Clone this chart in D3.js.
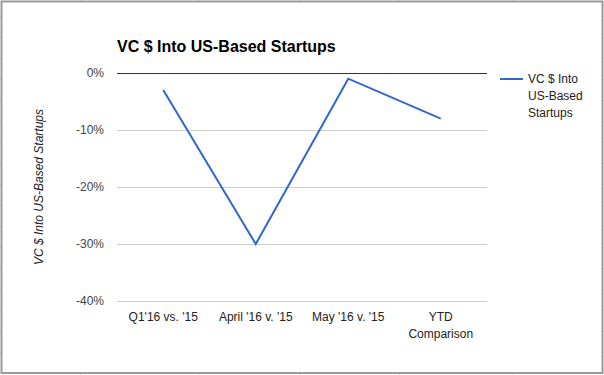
<!DOCTYPE html>
<html>
<head>
<meta charset="utf-8">
<script src="https://cdn.jsdelivr.net/npm/d3@7"></script>
<style>
  body { margin: 0; background: #fff; }
  svg { display: block; font-family: Arial, "Liberation Sans", sans-serif; }
</style>
</head>
<body>
<div id="chart"></div>
<script>
// data
const categories = ["Q1'16 vs. '15", "April '16 v. '15", "May '16 v. '15", "YTD Comparison"];
const values = [-3, -30, -1, -8];
const yTicks = [0, -10, -20, -30, -40];
const seriesName = "VC $ Into US-Based Startups";

const width = 604, height = 375;
const margin = {top: 73, left: 117, right: 117, bottom: 74};

const svg = d3.select("#chart").append("svg")
    .attr("width", width)
    .attr("height", height);

// faint spreadsheet grid peeking out behind the chart
const sheet = svg.append("g").attr("stroke", "#d0d0d0").attr("stroke-width", 1);
sheet.selectAll("line.row")
    .data(d3.range(16, 360, 21))
    .join("line")
    .attr("class", "row")
    .attr("x1", 0).attr("x2", width)
    .attr("y1", d => d + 0.5).attr("y2", d => d + 0.5);
sheet.selectAll("line.col")
    .data([80, 198, 299, 399, 513])
    .join("line")
    .attr("class", "col")
    .attr("x1", d => d + 0.5).attr("x2", d => d + 0.5)
    .attr("y1", 0).attr("y2", height);

// chart frame
svg.append("rect")
    .attr("x", 1.5).attr("y", 1.5)
    .attr("width", 601).attr("height", 371.5)
    .attr("fill", "#fff")
    .attr("stroke", "#9a9a9a")
    .attr("stroke-width", 2);

const xScale = d3.scaleBand()
    .domain(categories)
    .range([margin.left, width - margin.right]);

const yScale = d3.scaleLinear()
    .domain([-40, 0])
    .range([height - margin.bottom, margin.top]);

// title
svg.append("text")
    .attr("x", margin.left)
    .attr("y", 52)
    .attr("font-size", 16)
    .attr("font-weight", "bold")
    .attr("fill", "#000")
    .text(seriesName);

// gridlines + y labels
const yAxis = d3.axisLeft(yScale)
    .tickValues(yTicks)
    .tickSize(-(width - margin.left - margin.right))
    .tickPadding(13)
    .tickFormat(d => d + "%");

const gy = svg.append("g")
    .attr("transform", `translate(${margin.left},0)`)
    .call(yAxis);
gy.select(".domain").remove();
gy.selectAll(".tick line")
    .attr("stroke", d => d === 0 ? "#333" : "#ccc");
gy.selectAll(".tick text")
    .attr("font-size", 12)
    .attr("fill", "#444");

// x labels
const xAxis = d3.axisBottom(xScale).tickSize(0).tickPadding(11);
const gx = svg.append("g")
    .attr("transform", `translate(0,${height - margin.bottom})`)
    .call(xAxis);
gx.select(".domain").remove();
gx.selectAll(".tick text")
    .attr("font-size", 12)
    .attr("fill", "#222")
    .each(function(d) {
        // wrap the long last label like the original
        if (d === "YTD Comparison") {
            const t = d3.select(this);
            t.text(null);
            t.append("tspan").attr("x", 0).attr("dy", "0.71em").text("YTD");
            t.append("tspan").attr("x", 0).attr("dy", "1.45em").text("Comparison");
            t.attr("dy", null);
        }
    });

// y axis title
svg.append("text")
    .attr("transform", `translate(43,${(margin.top + height - margin.bottom) / 2}) rotate(-90)`)
    .attr("text-anchor", "middle")
    .attr("font-size", 12)
    .attr("font-style", "italic")
    .attr("fill", "#222")
    .text(seriesName);

// line
const line = d3.line()
    .x((d, i) => xScale(categories[i]) + xScale.bandwidth() / 2)
    .y(d => yScale(d));

svg.append("path")
    .datum(values)
    .attr("fill", "none")
    .attr("stroke", "#3366cc")
    .attr("stroke-width", 2)
    .attr("stroke-linejoin", "miter")
    .attr("d", line);

// legend
const legend = svg.append("g").attr("transform", "translate(500,79)");
legend.append("line")
    .attr("x1", 0).attr("x2", 23)
    .attr("stroke", "#3366cc")
    .attr("stroke-width", 2);
const legendLines = ["VC $ Into", "US-Based", "Startups"];
legend.selectAll("text.leg")
    .data(legendLines)
    .join("text")
    .attr("class", "leg")
    .attr("x", 28)
    .attr("y", (d, i) => 4 + i * 17)
    .attr("font-size", 12)
    .attr("fill", "#222")
    .text(d => d);
</script>
</body>
</html>
